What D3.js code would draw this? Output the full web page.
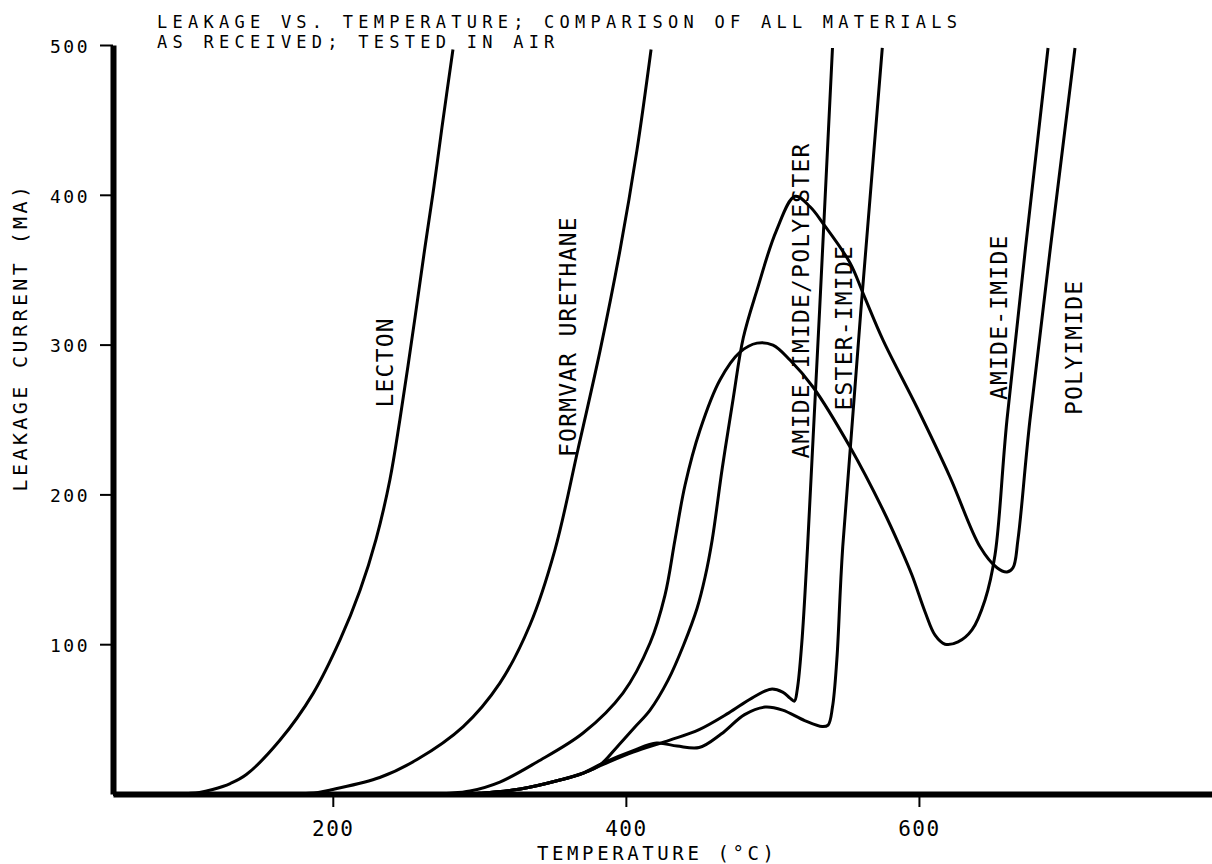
<!DOCTYPE html>
<html>
<head>
<meta charset="utf-8">
<script src="https://cdn.jsdelivr.net/npm/d3@7"></script>
<style>
  body { margin: 0; background: #fff; }
  svg text { font-family: "DejaVu Sans Mono", monospace; fill: #000; }
</style>
</head>
<body>
<svg width="1212" height="864"></svg>
<script>
// tick values and text
const tempTicks = [200, 400, 600];
const leakTicks = [100, 200, 300, 400, 500];
const titleLines = [
  "LEAKAGE VS. TEMPERATURE; COMPARISON OF ALL MATERIALS",
  "AS RECEIVED; TESTED IN AIR"
];

// curves: [temperature °C, leakage current mA]
const lecton = [[50,0],[95,0],[109,1],[118,3],[130,7],[141,13],[164,36],[186.5,67],[205,103],
  [218.6,136],[229.5,170],[239,210],[245.8,250],[256.1,318],[262.9,365],[269.1,406],
  [274.5,445],[282,497]];
const formvar = [[50,0],[175,0],[190,1],[200,3],[232,11],[257.5,23],[289,45],[314,74],
  [334.6,113],[351.6,163],[367.3,230],[382.4,296],[396,363],[407.6,430],[417.2,497]];
const amidePolyester = [[50,0],[290,0],[300.5,0.5],[328,3.3],[355,9.3],[371,14],[385,20],
  [405,28],[430,36],[450,43],[470,54],[486,64],[499,70],[507,68],[512,64],[515,62],
  [517,70],[520,100],[524,165],[541,498]];
const esterImide = [[50,0],[290,0],[300.5,0.5],[328,3.3],[355,9.3],[371,14],[385,21],
  [405,29],[421,34],[435,32],[450,31],[465,40],[481,53],[495,58],[507,56],[522,49],
  [534,45],[538,46],[541,58],[544,90],[548,165],[575,498]];
const amideImide = [[50,0],[265,0],[280,0.5],[293.6,2],[314,8],[339.4,21.4],[370.8,40.7],
  [398,67.4],[416.5,100.8],[426.7,132.8],[433.5,169.6],[440.4,206.3],[450.6,243],
  [464.2,276.4],[477.9,295],[489.5,301],[500.4,299.7],[512,289.7],[527.7,271.7],
  [553,231.6],[575.5,189.6],[587.1,165],[595.3,146],[604.2,121.5],[611,106],[617.8,100],
  [626.7,101.5],[636.2,109.5],[645.1,129.5],[651.9,159.5],[660.1,250],[688.1,498]];
const polyimide = [[50,0],[290,0],[300.5,0.5],[328,3.3],[355,9.3],[371,14],[382.4,19.4],
  [394,31.4],[406.2,44.7],[416.5,56],[428.8,76],[439.4,99.5],[448.6,124],[454.1,145],
  [458.9,169.6],[465.8,217.6],[473.3,264.4],[480.1,304.4],[489.7,337],[502.6,375.8],
  [515.5,399],[525.7,392],[534.5,381],[553,354.5],[561.8,334.4],[575.5,303],[598.7,258],
  [621.2,211.6],[641.7,165],[653.3,151],[660.1,148.2],[664.2,151],[667.6,170],[675.8,250],
  [706.5,498]];

// curve names and where their labels sit (temperature, leakage at start of text)
const curveNames = ["LECTON", "FORMVAR URETHANE", "AMIDE-IMIDE/POLYESTER", "ESTER-IMIDE", "AMIDE-IMIDE", "POLYIMIDE"];
const curveData = [lecton, formvar, amidePolyester, esterImide, amideImide, polyimide];
const labelAt = [[235.6,258],[360.5,225],[519.5,224],[549,256],[654.6,263],[705.8,253]];

const svg = d3.select("svg");
const width = +svg.attr("width");
const height = +svg.attr("height");

const x = d3.scaleLinear().domain([50, 800]).range([113, 1212]);
const y = d3.scaleLinear().domain([0, 500]).range([794, 45]);

// title
svg.append("g")
  .selectAll("text")
  .data(titleLines)
  .enter().append("text")
  .attr("x", 157)
  .attr("y", (d, i) => 28 + i * 20)
  .style("font-size", "17px")
  .style("letter-spacing", "5.25px")
  .text(d => d);

// curves
const line = d3.line()
  .x(d => x(d[0]))
  .y(d => y(d[1]))
  .curve(d3.curveCatmullRom.alpha(0.5));

svg.append("g")
  .selectAll("path")
  .data(curveData)
  .enter().append("path")
  .attr("d", line)
  .attr("fill", "none")
  .attr("stroke", "#000")
  .attr("stroke-width", 3)
  .attr("stroke-linejoin", "round");

// curve labels, written bottom to top
svg.append("g")
  .selectAll("text")
  .data(curveNames)
  .enter().append("text")
  .attr("transform", (d, i) => `translate(${x(labelAt[i][0]) + 8},${y(labelAt[i][1])}) rotate(-90)`)
  .style("font-size", "23px")
  .style("letter-spacing", "1.2px")
  .text(d => d);

// axes
const yAxis = d3.axisLeft(y).tickValues(leakTicks).tickSize(13).tickSizeOuter(0).tickPadding(10);
const xAxis = d3.axisBottom(x).tickValues(tempTicks).tickSize(13).tickSizeOuter(0).tickPadding(14);

const gy = svg.append("g").attr("transform", `translate(${x(50)},0)`).call(yAxis);
gy.select(".domain").attr("stroke-width", 6);
gy.selectAll(".tick line").attr("stroke-width", 2);
gy.selectAll(".tick text")
  .attr("dy", "0.4em")
  .style("font-size", "18px")
  .style("letter-spacing", "2.5px")
  .style("font-family", "'DejaVu Sans Mono', monospace");

const gx = svg.append("g").attr("transform", `translate(0,${y(0)})`).call(xAxis);
gx.select(".domain").attr("stroke-width", 6);
gx.selectAll(".tick line").attr("stroke-width", 2);
gx.selectAll(".tick text")
  .style("font-size", "21px")
  .style("letter-spacing", "1.5px")
  .style("font-family", "'DejaVu Sans Mono', monospace");

// axis titles
svg.append("text")
  .attr("x", 537)
  .attr("y", 860)
  .style("font-size", "19px")
  .style("letter-spacing", "3.6px")
  .text("TEMPERATURE (°C)");

svg.append("text")
  .attr("transform", "translate(27,337) rotate(-90)")
  .attr("text-anchor", "middle")
  .style("font-size", "20px")
  .style("letter-spacing", "3.4px")
  .text("LEAKAGE CURRENT (MA)");
</script>
</body>
</html>
